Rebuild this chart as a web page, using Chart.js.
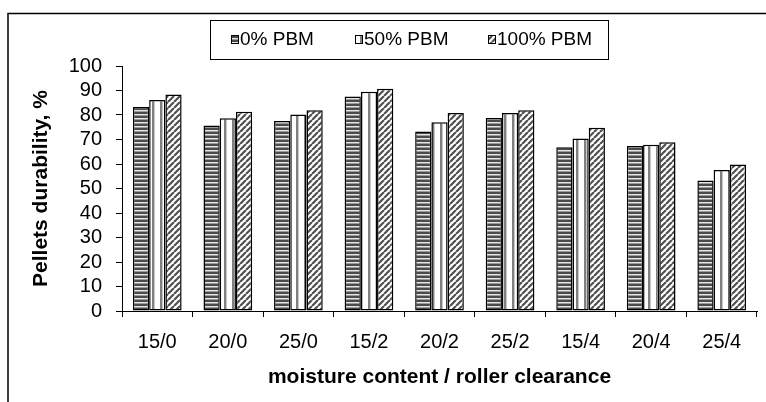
<!DOCTYPE html>
<html>
<head>
<meta charset="utf-8">
<script src="https://cdn.jsdelivr.net/npm/chart.js@4"></script>
<style>
  html, body { margin: 0; padding: 0; background: #fff; }
  canvas { display: block; }
</style>
</head>
<body>
<canvas id="durability" width="766" height="402"></canvas>
<script>
const categories = ['15/0', '20/0', '25/0', '15/2', '20/2', '25/2', '15/4', '20/4', '25/4'];
const seriesNames = ['0% PBM', '50% PBM', '100% PBM'];
const pbm0 = [83.3, 75.7, 77.6, 87.6, 73.3, 78.8, 66.8, 67.3, 53.3];
const pbm50 = [86.1, 78.7, 80.2, 89.5, 77.0, 80.8, 70.4, 67.9, 57.6];
const pbm100 = [88.4, 81.3, 81.9, 90.7, 80.8, 81.9, 74.8, 68.9, 59.8];
const yMin = 0, yMax = 100, yStep = 10;

const FONT = '"Liberation Sans", Arial, sans-serif';

// fill patterns, like the old excel hatches
function makePattern(kind) {
  const c = document.createElement('canvas');
  const g = c.getContext('2d');
  if (kind === 'horiz') {
    c.width = 4; c.height = 4;
    g.fillStyle = '#9a9a9a'; g.fillRect(0, 0, 4, 4);
    g.fillStyle = '#4a4a4a'; g.fillRect(0, 0, 4, 2);
    g.fillStyle = '#e6e6e6'; g.fillRect(0, 2, 4, 1);
  } else if (kind === 'vert') {
    c.width = 8; c.height = 4;
    g.fillStyle = '#ffffff'; g.fillRect(0, 0, 8, 4);
    g.fillStyle = '#808080'; g.fillRect(0, 0, 2, 4);
    g.fillStyle = '#c8c8c8'; g.fillRect(2, 0, 1, 4);
  } else {
    c.width = 6; c.height = 6;
    g.fillStyle = '#ffffff'; g.fillRect(0, 0, 6, 6);
    g.strokeStyle = '#505050'; g.lineWidth = 2.2;
    g.beginPath();
    for (let k = -6; k <= 12; k += 6) {
      g.moveTo(k, 6); g.lineTo(k + 6, 0);
    }
    g.stroke();
  }
  return g.createPattern(c, 'repeat');
}

const fills = [makePattern('horiz'), makePattern('vert'), makePattern('diag')];

// frame + boxed legend drawn by hand
const framePlugin = {
  id: 'frame',
  afterDraw(chart) {
    const ctx = chart.ctx;
    ctx.save();
    ctx.strokeStyle = '#000';
    ctx.lineWidth = 1.5;
    ctx.beginPath();
    ctx.moveTo(8, 402); ctx.lineTo(8, 13.5); ctx.lineTo(766, 13.5);
    ctx.stroke();

    ctx.lineWidth = 1;
    ctx.strokeRect(210.5, 20.5, 398, 39);

    const itemX = [231, 355, 488];
    ctx.font = '19px ' + FONT;
    ctx.textBaseline = 'middle';
    chart.data.datasets.forEach((ds, i) => {
      const x = itemX[i];
      ctx.fillStyle = ds.backgroundColor;
      ctx.fillRect(x, 35, 8, 9);
      ctx.strokeStyle = '#000';
      ctx.strokeRect(x + 0.5, 35.5, 7, 8);
      ctx.fillStyle = '#000';
      ctx.fillText(ds.label, x + 9, 40);
    });
    ctx.restore();
  }
};

new Chart(document.getElementById('durability'), {
  type: 'bar',
  data: {
    labels: categories,
    datasets: [pbm0, pbm50, pbm100].map((vals, i) => ({
      label: seriesNames[i],
      data: vals,
      backgroundColor: fills[i],
      borderColor: '#000',
      borderWidth: 1.5,
      borderSkipped: false,
      categoryPercentage: 0.69,
      barPercentage: 1.0
    }))
  },
  options: {
    responsive: false,
    animation: false,
    layout: { padding: { top: 66, right: 9, left: 0, bottom: 0 } },
    plugins: {
      legend: { display: false },
      tooltip: { enabled: false }
    },
    scales: {
      x: {
        afterFit(scale) { scale.height = 91; },
        grid: { display: true, drawOnChartArea: false, drawTicks: true, tickLength: 6, color: '#000', lineWidth: 1 },
        border: { display: true, color: '#000', width: 1 },
        ticks: { color: '#000', padding: 13, font: { family: FONT, size: 20 } },
        title: {
          display: true,
          text: 'moisture content / roller clearance',
          color: '#000',
          font: { family: FONT, size: 21, weight: 'bold' },
          padding: { top: 0, bottom: 12 }
        }
      },
      y: {
        min: yMin, max: yMax,
        afterFit(scale) { scale.width = 122; },
        grid: { display: true, drawOnChartArea: false, drawTicks: true, tickLength: 6, color: '#000', lineWidth: 1 },
        border: { display: true, color: '#000', width: 1 },
        ticks: { stepSize: yStep, autoSkip: false, color: '#000', padding: 14, font: { family: FONT, size: 20 } },
        title: {
          display: true,
          text: 'Pellets durability, %',
          color: '#000',
          font: { family: FONT, size: 21, weight: 'bold' },
          padding: { top: 29, bottom: 0 }
        }
      }
    }
  },
  plugins: [framePlugin]
});
</script>
</body>
</html>
